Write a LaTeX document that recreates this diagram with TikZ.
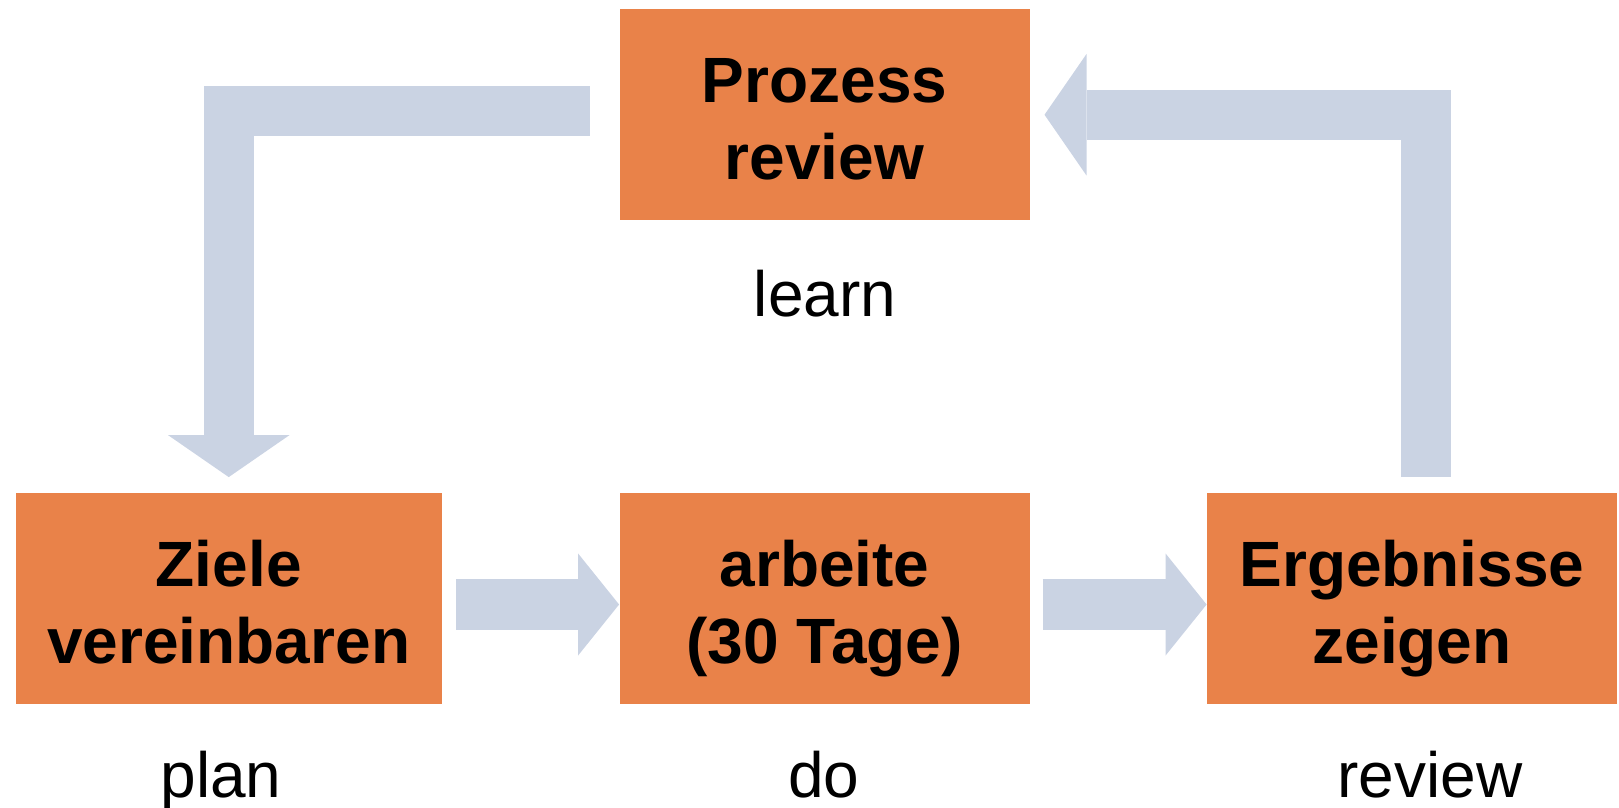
\documentclass[tikz,border=0pt]{standalone}
\usepackage{fontspec}
\setmainfont{Liberation Sans}
\usetikzlibrary{arrows.meta}
\definecolor{boxorange}{RGB}{233,130,73}
\definecolor{flowgray}{RGB}{202,211,227}
\tikzset{
  stepbox/.style={fill=boxorange, inner sep=0pt, minimum height=105.5pt, minimum width=205pt,
    align=center, text height=64.5pt, text depth=0pt, font=\fontsize{32}{38.5}\selectfont\bfseries},
  phase/.style={anchor=base, inner sep=0pt, text depth=0pt, font=\fontsize{32}{38.5}\selectfont},
  flow/.style={draw=flowgray, line width=25.5pt, -{Triangle[length=20.5pt,width=51pt,line width=0pt]}},
  bentflow/.style={draw=flowgray, line width=25pt, line join=miter,
    -{Triangle[length=21pt,width=60.75pt,line width=0pt]}}
}
\begin{document}
\begin{tikzpicture}[x=0.5pt,y=-0.5pt]
       \useasboundingbox(0,0)rectangle(1619,808);
       \node[stepbox, minimum width=213.25pt](zielebox)at(228.75,598.5){Ziele\\vereinbaren};
       \node[stepbox](arbeitbox)at(824.5,598.5){arbeite\\(30 Tage)};
       \node[stepbox](ergebnisbox)at(1412,598.5){Ergebnisse\\zeigen};
       \node[stepbox](prozessbox)at(824.5,114.75){Prozess\\review};
       \node[phase](learnlbl)at(825,316){learn};
       \node[phase](planlbl)at(221,797){plan};
       \node[phase](dolbl)at(824,797){do};
       \node[phase](reviewlbl)at(1430,797){review};
       \draw[flow]([xshift=7pt,yshift=-3pt]zielebox.east)--([yshift=-3pt]arbeitbox.west);
       \draw[flow]([xshift=6.3pt,yshift=-3pt]arbeitbox.east)--([yshift=-3pt]ergebnisbox.west);
       \draw[bentflow]([xshift=-14.75pt,yshift=2pt]prozessbox.west)-|([yshift=7.75pt]zielebox.north);
       \draw[bentflow]([xshift=7pt,yshift=7.75pt]ergebnisbox.north)|-([xshift=7.3pt]prozessbox.east);
      \end{tikzpicture}
\end{document}
